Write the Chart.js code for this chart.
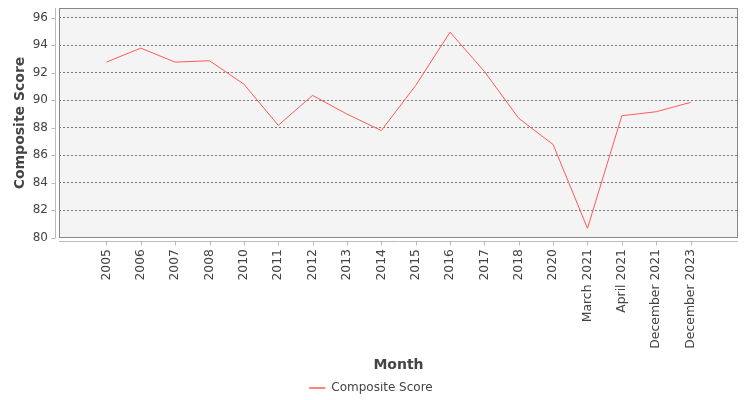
<!DOCTYPE html>
<html lang="en">
<head>
  <meta charset="UTF-8" />
  <title>Composite Score</title>
  <script src="https://cdn.jsdelivr.net/npm/chart.js"></script>
  <style>
    html, body { margin: 0; padding: 0; background: #fff; }
    #wrap { width: 750px; height: 400px; }
  </style>
</head>
<body>
  <div id="wrap"><canvas id="chart"></canvas></div>

  <script>
    const months = ['2005', '2006', '2007', '2008', '2010', '2011', '2012', '2013', '2014',
      '2015', '2016', '2017', '2018', '2020', 'March 2021', 'April 2021', 'December 2021', 'December 2023'];
    const scores = [92.78, 93.80, 92.78, 92.88, 91.18, 88.18, 90.36, 89.0, 87.8,
      91.08, 94.96, 92.1, 88.69, 86.78, 80.68, 88.88, 89.17, 89.85];
    const yTicks = [80, 82, 84, 86, 88, 90, 92, 94, 96];

    const FONT = "'DejaVu Sans', sans-serif";
    const edge = 1.38; // category margin on each side, in category units
    const plotBottom = 238;
    const padBottom = -4;

    function noPad(s) {
      s.paddingTop = 0; s.paddingBottom = 0; s.paddingLeft = 0; s.paddingRight = 0;
    }

    // plot background, outline, offset axis lines and tick marks
    const plotFrame = {
      id: 'plotFrame',
      beforeDraw(chart) {
        const { ctx, chartArea: a } = chart;
        ctx.save();
        ctx.fillStyle = '#f4f4f4';
        ctx.fillRect(a.left, a.top, a.right - a.left, a.bottom - a.top);
        ctx.restore();
      },
      afterDatasetsDraw(chart) {
        const { ctx, chartArea: a, scales } = chart;
        ctx.save();
        ctx.strokeStyle = '#888';
        ctx.lineWidth = 1;
        ctx.strokeRect(a.left + 0.5, a.top + 0.5, a.right - a.left - 1, a.bottom - a.top - 1);
        ctx.strokeStyle = '#bbb';
        ctx.beginPath();
        const ax = Math.round(a.left) - 3.5;
        const ay = Math.round(a.bottom) + 3.5;
        ctx.moveTo(ax, a.top);
        ctx.lineTo(ax, a.bottom);
        ctx.moveTo(a.left, ay);
        ctx.lineTo(a.right, ay);
        scales.x.ticks.forEach(t => {
          const px = Math.round(scales.x.getPixelForValue(t.value)) + 0.5;
          ctx.moveTo(px, ay);
          ctx.lineTo(px, ay + 4);
        });
        scales.y.ticks.forEach(t => {
          const py = Math.round(scales.y.getPixelForValue(t.value)) + 0.5;
          ctx.moveTo(ax, py);
          ctx.lineTo(ax - 4, py);
        });
        ctx.stroke();
        ctx.restore();
      }
    };

    new Chart(document.getElementById('chart'), {
      type: 'line',
      data: {
        datasets: [{
          label: 'Composite Score',
          data: scores.map((v, i) => ({ x: i, y: v })),
          borderColor: '#ff5a5a',
          backgroundColor: '#ff5a5a',
          borderWidth: 1,
          pointRadius: 0,
          tension: 0
        }]
      },
      options: {
        responsive: true,
        maintainAspectRatio: false,
        animation: false,
        layout: { padding: { top: 8, right: 12, left: 4, bottom: padBottom } },
        plugins: {
          tooltip: { enabled: false },
          legend: {
            position: 'bottom',
            labels: {
              font: { family: FONT, size: 12 },
              color: '#444',
              boxWidth: 16,
              boxHeight: 0,
              padding: 0
            }
          }
        },
        scales: {
          x: {
            type: 'linear',
            min: -edge,
            max: months.length - 1 + edge,
            afterBuildTicks: s => { s.ticks = months.map((_, i) => ({ value: i })); },
            afterFit: s => {
              noPad(s);
              const lh = s.chart.legend ? s.chart.legend.height : 22;
              s.height = 400 - padBottom - plotBottom - lh;
            },
            ticks: {
              callback: v => months[v],
              minRotation: 90,
              maxRotation: 90,
              autoSkip: false,
              padding: 11,
              color: '#444',
              font: { family: FONT, size: 12.4 }
            },
            grid: { display: false, drawTicks: false },
            border: { display: false },
            title: {
              display: true,
              text: 'Month',
              color: '#444',
              font: { family: FONT, size: 14, weight: 'bold' },
              padding: { top: 0, bottom: 8 }
            }
          },
          y: {
            min: 79.98,
            max: 96.72,
            afterBuildTicks: s => { s.ticks = yTicks.map(v => ({ value: v })); },
            afterFit: s => { noPad(s); s.width = 55; },
            ticks: {
              color: '#444',
              padding: 11,
              font: { family: FONT, size: 12 }
            },
            grid: {
              color: '#777',
              lineWidth: 1,
              drawTicks: false
            },
            border: { display: false, dash: [2, 2] },
            title: {
              display: true,
              text: 'Composite Score',
              color: '#444',
              font: { family: FONT, size: 14, weight: 'bold' },
              padding: { top: 8, bottom: 4 }
            }
          }
        }
      },
      plugins: [plotFrame]
    });
  </script>
</body>
</html>
